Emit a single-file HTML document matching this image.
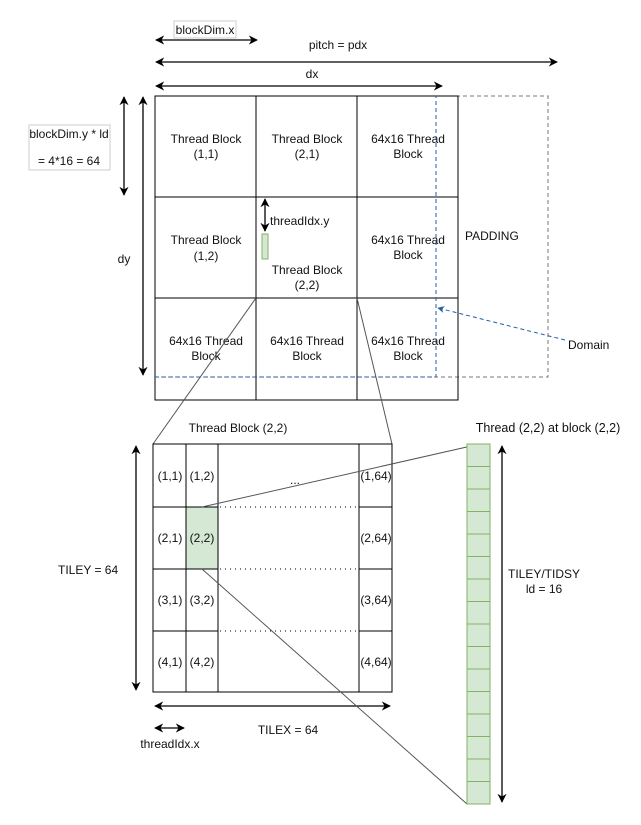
<!DOCTYPE html>
<html><head><meta charset="utf-8"><style>
html,body{margin:0;padding:0;background:#fff;}
svg{display:block;}
text{font-family:"Liberation Sans",sans-serif;font-size:12px;fill:#111;}
</style></head><body>
<svg width="641" height="825" viewBox="0 0 641 825" xmlns="http://www.w3.org/2000/svg">
<defs>
<marker id="a" viewBox="0 0 10 10" refX="9" refY="5" markerWidth="7" markerHeight="7" orient="auto-start-reverse"><path d="M0,0 L10,5 L0,10 L3,5 z" fill="#000"/></marker>
<marker id="b" viewBox="0 0 10 10" refX="9" refY="5" markerWidth="7" markerHeight="7" orient="auto"><path d="M0,0 L10,5 L0,10 L3,5 z" fill="#1f5fa8"/></marker>
</defs>
<rect x="174" y="21" width="62" height="17" fill="#fff" stroke="#ccc"/>
<text x="205" y="34" text-anchor="middle">blockDim.x</text>
<line x1="156" y1="40" x2="257" y2="40" stroke="#000" stroke-width="1.3" marker-start="url(#a)" marker-end="url(#a)"/>
<text x="338" y="49" text-anchor="middle">pitch = pdx</text>
<line x1="156" y1="62" x2="557" y2="62" stroke="#000" stroke-width="1.3" marker-start="url(#a)" marker-end="url(#a)"/>
<text x="312" y="78" text-anchor="middle">dx</text>
<line x1="156" y1="86" x2="442" y2="86" stroke="#000" stroke-width="1.3" marker-start="url(#a)" marker-end="url(#a)"/>
<rect x="29" y="125" width="81" height="45" fill="#fff" stroke="#ccc"/>
<text x="69" y="138" text-anchor="middle">blockDim.y * ld</text>
<text x="69" y="165" text-anchor="middle">= 4*16 = 64</text>
<line x1="124" y1="97" x2="124" y2="195" stroke="#000" stroke-width="1.3" marker-start="url(#a)" marker-end="url(#a)"/>
<line x1="143" y1="97" x2="143" y2="375" stroke="#000" stroke-width="1.3" marker-start="url(#a)" marker-end="url(#a)"/>
<text x="124" y="263" text-anchor="middle">dy</text>
<rect x="155" y="96" width="393" height="281" fill="none" stroke="#777" stroke-dasharray="4,3"/>
<g stroke="#000" stroke-width="1" fill="none">
<rect x="155" y="96" width="303" height="304"/>
<line x1="256" y1="96" x2="256" y2="400"/><line x1="357" y1="96" x2="357" y2="400"/>
<line x1="155" y1="197" x2="458" y2="197"/><line x1="155" y1="298" x2="458" y2="298"/>
</g>
<g text-anchor="middle">
<text x="206" y="143">Thread Block</text><text x="206" y="158">(1,1)</text>
<text x="307" y="143">Thread Block</text><text x="307" y="158">(2,1)</text>
<text x="408" y="143">64x16 Thread</text><text x="408" y="158">Block</text>
<text x="206" y="244">Thread Block</text><text x="206" y="260">(1,2)</text>
<text x="307" y="274">Thread Block</text><text x="307" y="289">(2,2)</text>
<text x="408" y="244">64x16 Thread</text><text x="408" y="259">Block</text>
<text x="206" y="345">64x16 Thread</text><text x="206" y="360">Block</text>
<text x="307" y="345">64x16 Thread</text><text x="307" y="360">Block</text>
<text x="408" y="345">64x16 Thread</text><text x="408" y="360">Block</text>
</g>
<line x1="265" y1="199" x2="265" y2="231" stroke="#000" stroke-width="1.3" marker-start="url(#a)" marker-end="url(#a)"/>
<text x="270" y="225">threadIdx.y</text>
<rect x="262" y="234" width="6" height="25" fill="#d5e8d4" stroke="#82b366"/>
<text x="465" y="240">PADDING</text>
<polyline points="155,377 436,377 436,96" fill="none" stroke="#1f5fa8" stroke-dasharray="4,3"/>
<line x1="565" y1="340" x2="438" y2="308" stroke="#1f5fa8" stroke-dasharray="4,3" marker-end="url(#b)"/>
<text x="568" y="349">Domain</text>
<line x1="256" y1="298" x2="153" y2="444" stroke="#555"/>
<line x1="357" y1="298" x2="392" y2="444" stroke="#555"/>
<text x="238" y="432" text-anchor="middle">Thread Block (2,2)</text>
<rect x="186" y="507" width="32" height="62" fill="#d5e8d4"/>
<g stroke="#000" stroke-width="1" fill="none">
<rect x="153" y="444" width="239" height="248"/>
<line x1="186" y1="444" x2="186" y2="692"/><line x1="218" y1="444" x2="218" y2="692"/><line x1="359" y1="444" x2="359" y2="692"/>
<line x1="153" y1="507" x2="218" y2="507"/><line x1="153" y1="569" x2="218" y2="569"/><line x1="153" y1="631" x2="218" y2="631"/>
<line x1="359" y1="507" x2="392" y2="507"/><line x1="359" y1="569" x2="392" y2="569"/><line x1="359" y1="631" x2="392" y2="631"/>
</g>
<g stroke="#000" stroke-dasharray="1,4">
<line x1="220" y1="507" x2="357" y2="507"/><line x1="220" y1="569" x2="357" y2="569"/><line x1="220" y1="631" x2="357" y2="631"/><line x1="220" y1="692" x2="357" y2="692"/>
</g>
<g text-anchor="middle">
<text x="170" y="480">(1,1)</text><text x="202" y="480">(1,2)</text><text x="295" y="484">...</text><text x="376" y="480">(1,64)</text>
<text x="170" y="542">(2,1)</text><text x="202" y="542">(2,2)</text><text x="376" y="542">(2,64)</text>
<text x="170" y="604">(3,1)</text><text x="202" y="604">(3,2)</text><text x="376" y="604">(3,64)</text>
<text x="170" y="666">(4,1)</text><text x="202" y="666">(4,2)</text><text x="376" y="666">(4,64)</text>
</g>
<line x1="136" y1="446" x2="136" y2="690" stroke="#000" stroke-width="1.3" marker-start="url(#a)" marker-end="url(#a)"/>
<text x="58" y="574">TILEY = 64</text>
<line x1="155" y1="706" x2="390" y2="706" stroke="#000" stroke-width="1.3" marker-start="url(#a)" marker-end="url(#a)"/>
<text x="288" y="734" text-anchor="middle">TILEX = 64</text>
<line x1="155" y1="728" x2="184" y2="728" stroke="#000" stroke-width="1.3" marker-start="url(#a)" marker-end="url(#a)"/>
<text x="170" y="748" text-anchor="middle">threadIdx.x</text>
<text x="548" y="432" text-anchor="middle" style="font-size:12.5px">Thread (2,2) at block (2,2)</text>
<line x1="202" y1="507" x2="480" y2="444" stroke="#555"/>
<line x1="202" y1="569" x2="467" y2="804" stroke="#555"/>
<g fill="#d5e8d4" stroke="#82b366">
<rect x="467" y="444" width="23" height="22.5"/><rect x="467" y="466.5" width="23" height="22.5"/><rect x="467" y="489" width="23" height="22.5"/><rect x="467" y="511.5" width="23" height="22.5"/>
<rect x="467" y="534" width="23" height="22.5"/><rect x="467" y="556.5" width="23" height="22.5"/><rect x="467" y="579" width="23" height="22.5"/><rect x="467" y="601.5" width="23" height="22.5"/>
<rect x="467" y="624" width="23" height="22.5"/><rect x="467" y="646.5" width="23" height="22.5"/><rect x="467" y="669" width="23" height="22.5"/><rect x="467" y="691.5" width="23" height="22.5"/>
<rect x="467" y="714" width="23" height="22.5"/><rect x="467" y="736.5" width="23" height="22.5"/><rect x="467" y="759" width="23" height="22.5"/><rect x="467" y="781.5" width="23" height="22.5"/>
</g>
<line x1="502" y1="446" x2="502" y2="802" stroke="#000" stroke-width="1.3" marker-start="url(#a)" marker-end="url(#a)"/>
<text x="544" y="578" text-anchor="middle">TILEY/TIDSY</text>
<text x="544" y="593" text-anchor="middle">ld = 16</text>
</svg>
</body></html>
